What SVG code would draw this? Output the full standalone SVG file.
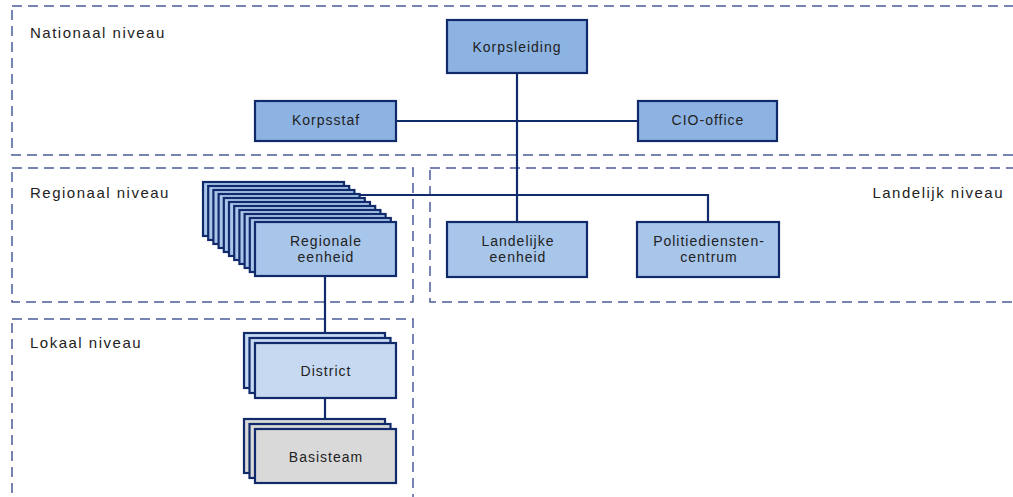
<svg xmlns="http://www.w3.org/2000/svg" width="1013" height="497" viewBox="0 0 1013 497">
<style>
.zone{fill:none;stroke:#4b5b9b;stroke-width:1.5;stroke-dasharray:10,6}
.zl{font-family:"Liberation Sans",Arial,sans-serif;font-size:15px;letter-spacing:1.5px;fill:#222}
.t{font-family:"Liberation Sans",Arial,sans-serif;font-size:14px;letter-spacing:1px;fill:#222;text-anchor:middle}
.b1{fill:#8db3e2;stroke:#102a6b;stroke-width:2.2}
.b2{fill:#a8c5ea;stroke:#102a6b;stroke-width:2.2}
.b3{fill:#c6d9f1;stroke:#102a6b;stroke-width:2.2}
.b4{fill:#d9d9d9;stroke:#102a6b;stroke-width:2.2}
.c{fill:none;stroke:#102a6b;stroke-width:2.2}
</style>
<rect width="1013" height="497" fill="#fff"/>
<g id="zones">
<rect class="zone" x="12" y="6" width="1010" height="149"/>
<rect class="zone" x="12" y="168" width="401" height="134"/>
<rect class="zone" x="430" y="168" width="592" height="134"/>
<rect class="zone" x="12" y="319" width="401" height="190"/>
<text class="zl" x="30" y="38">Nationaal niveau</text>
<text class="zl" x="30" y="198">Regionaal niveau</text>
<text class="zl" x="1004" y="198" text-anchor="end">Landelijk niveau</text>
<text class="zl" x="30" y="348">Lokaal niveau</text>
</g>
<g id="connectors">
<path class="c" d="M517,73 V222"/>
<path class="c" d="M396,121 H638"/>
<path class="c" d="M345,195 H708 V222"/>
<path class="c" d="M325,276 V343"/>
<path class="c" d="M325,398 V429"/>
</g>
<g id="korpsleiding">
<rect class="b1" x="447" y="20" width="140" height="53"/>
<text class="t" x="517" y="52">Korpsleiding</text>
</g>
<g id="korpsstaf">
<rect class="b1" x="255" y="101" width="141" height="40"/>
<text class="t" x="326" y="125">Korpsstaf</text>
</g>
<g id="cio-office">
<rect class="b1" x="638" y="101" width="139" height="40"/>
<text class="t" x="708" y="125">CIO-office</text>
</g>
<g id="regionale-eenheid">
<rect class="b2" x="203" y="182" width="141" height="54"/>
<rect class="b2" x="208.2" y="186" width="141" height="54"/>
<rect class="b2" x="213.4" y="190" width="141" height="54"/>
<rect class="b2" x="218.6" y="194" width="141" height="54"/>
<rect class="b2" x="223.8" y="198" width="141" height="54"/>
<rect class="b2" x="229" y="202" width="141" height="54"/>
<rect class="b2" x="234.2" y="206" width="141" height="54"/>
<rect class="b2" x="239.4" y="210" width="141" height="54"/>
<rect class="b2" x="244.6" y="214" width="141" height="54"/>
<rect class="b2" x="249.8" y="218" width="141" height="54"/>
<rect class="b2" x="255" y="222" width="141" height="54"/>
<text class="t" x="326" y="246">Regionale</text>
<text class="t" x="326" y="262">eenheid</text>
</g>
<g id="landelijke-eenheid">
<rect class="b2" x="447" y="222" width="140" height="55"/>
<text class="t" x="518" y="246">Landelijke</text>
<text class="t" x="518" y="262">eenheid</text>
</g>
<g id="politiedienstencentrum">
<rect class="b2" x="637" y="222" width="142" height="55"/>
<text class="t" x="709" y="246">Politiediensten-</text>
<text class="t" x="709" y="262">centrum</text>
</g>
<g id="district">
<rect class="b3" x="244" y="333" width="141" height="55"/>
<rect class="b3" x="249.5" y="338" width="141" height="55"/>
<rect class="b3" x="255" y="343" width="141" height="55"/>
<text class="t" x="326" y="376">District</text>
</g>
<g id="basisteam">
<rect class="b4" x="244" y="419" width="141" height="54"/>
<rect class="b4" x="249.5" y="424" width="141" height="54"/>
<rect class="b4" x="255" y="429" width="141" height="54"/>
<text class="t" x="326" y="462">Basisteam</text>
</g>
</svg>
